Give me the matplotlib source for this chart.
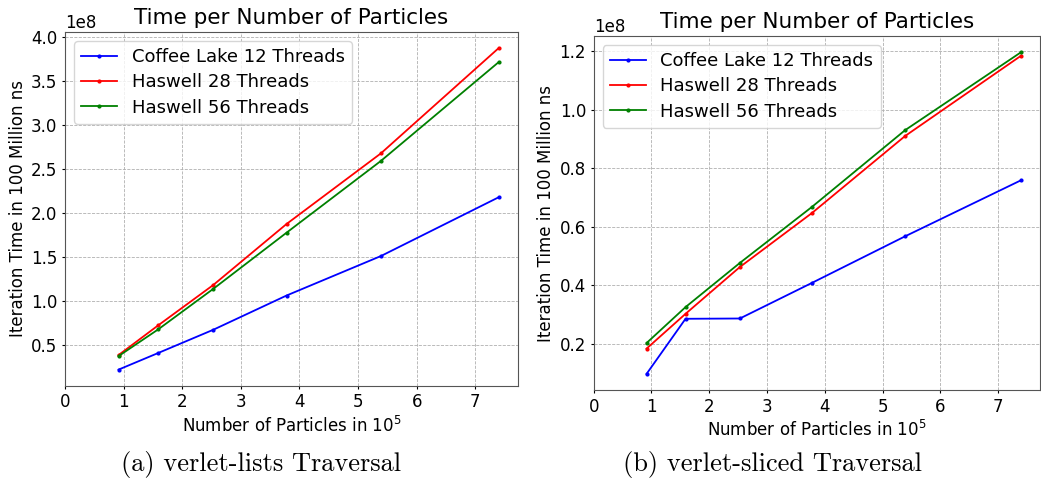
import numpy as np
import matplotlib
matplotlib.use("Agg")
import matplotlib.pyplot as plt

# particles in 10^5
particles = [0.915, 1.59, 2.53, 3.78, 5.39, 7.40]
series_names = ["Coffee Lake 12 Threads", "Haswell 28 Threads", "Haswell 56 Threads"]
colors = ["blue", "red", "green"]

# iteration time (ns) - verlet-lists
lists_coffee = [0.216e8, 0.405e8, 0.670e8, 1.060e8, 1.510e8, 2.180e8]
lists_has28 = [0.382e8, 0.720e8, 1.180e8, 1.875e8, 2.680e8, 3.880e8]
lists_has56 = [0.370e8, 0.674e8, 1.136e8, 1.776e8, 2.594e8, 3.720e8]

# iteration time (ns) - verlet-sliced
sliced_coffee = [0.0965e8, 0.285e8, 0.286e8, 0.408e8, 0.567e8, 0.759e8]
sliced_has28 = [0.183e8, 0.302e8, 0.462e8, 0.647e8, 0.910e8, 1.185e8]
sliced_has56 = [0.202e8, 0.325e8, 0.476e8, 0.668e8, 0.930e8, 1.197e8]

captions = ["(a) verlet-lists Traversal", "(b) verlet-sliced Traversal"]

fig = plt.figure(figsize=(10.41, 4.8), dpi=100)
ax1 = fig.add_axes([0.0624, 0.1965, 0.435, 0.737])
ax2 = fig.add_axes([0.5703, 0.1875, 0.4287, 0.7375])


def draw(ax, data):
    for vals, name, c in zip(data, series_names, colors):
        ax.plot(particles, vals, color=c, marker='.', markersize=4, linewidth=1.3, label=name)
    ax.set_title("Time per Number of Particles", fontsize=15.5)
    ax.set_xlabel("Number of Particles in $10^5$", fontsize=12, labelpad=3)
    ax.set_ylabel("Iteration Time in 100 Million ns", fontsize=12, labelpad=3)
    ax.set_xlim(left=0)
    ax.set_xticks(range(0, 8))
    ax.tick_params(labelsize=12, length=2.5, pad=3)
    ax.yaxis.get_offset_text().set_fontsize(12)
    for s in ax.spines.values():
        s.set_color('#555555')
    ax.grid(True, linestyle='--', linewidth=0.6, color='#b0b0b0')
    ax.legend(loc='upper left', fontsize=13, handlelength=2.0, labelspacing=0.4)


draw(ax1, [lists_coffee, lists_has28, lists_has56])
draw(ax2, [sliced_coffee, sliced_has28, sliced_has56])

fig.text(0.2507, 0.032, captions[0], ha='center', va='center', family='cmr10', fontsize=19)
fig.text(0.7425, 0.032, captions[1], ha='center', va='center', family='cmr10', fontsize=19)

plt.savefig("out.png", dpi=100)
